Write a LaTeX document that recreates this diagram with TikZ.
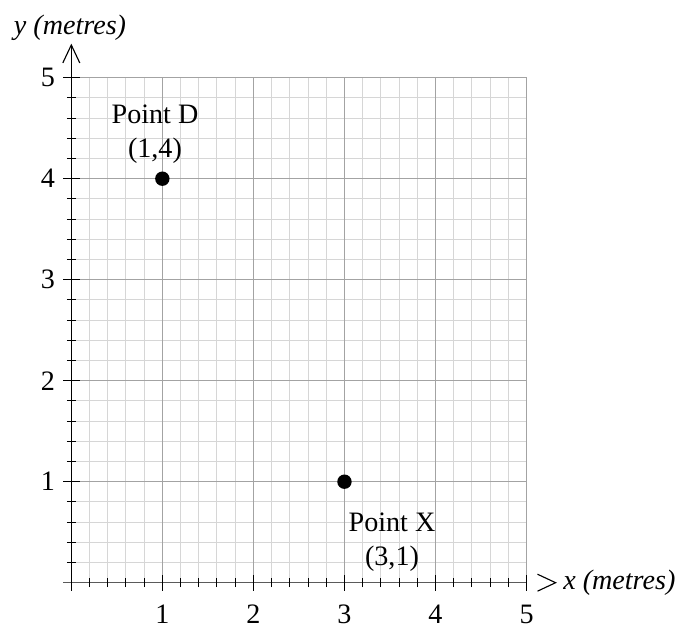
\documentclass[tikz,border=0pt]{standalone}
\usepackage{fontspec}
\setmainfont{Liberation Serif}
\usetikzlibrary{arrows.meta, positioning}
\definecolor{gridminor}{HTML}{D6D6D6}
\definecolor{gridmajor}{HTML}{A3A3A3}
\definecolor{axisgray}{HTML}{5A5A5A}

\begin{document}
\begin{tikzpicture}[
  x=2.2763cm, y=2.525cm,
  every node/.style={font=\fontsize{20}{24}\selectfont},
  minorline/.style={draw=gridminor, line width=0.7pt},
  majorline/.style={draw=gridmajor, line width=0.7pt},
  axisline/.style={line width=0.8pt},
  tickmark/.style={black, line width=0.7pt},
  ticklabel/.style={inner sep=0pt},
  dot/.style={circle, fill=black, inner sep=0pt, minimum size=0.36cm},
  ptlabel/.style={align=center, inner sep=0pt},
  axlabel/.style={font=\fontsize{20}{24}\selectfont\itshape, inner sep=0pt},
]
\useasboundingbox (-1.7825cm,-1.1325cm) rectangle (15.1675cm,14.5675cm);

% Grid
\foreach \k in {1,...,25} {
  \draw[minorline] (\k/5,0) -- (\k/5,5);
  \draw[minorline] (0,\k/5) -- (5,\k/5);
}
\foreach \k in {1,...,5} {
  \draw[majorline] (\k,0) -- (\k,5);
  \draw[majorline] (0,\k) -- (5,\k);
}

% Axes
\coordinate (xtip) at (5.319,0);
\coordinate (ytip) at (0,5.337);
\draw[axisline, axisgray] (-0.09,0) -- (5,0);
\draw[axisline] (5.12,0.084) -- (xtip) -- (5.12,-0.084);
\draw[axisline, -{Straight Barb[length=0.45cm, width=0.425cm]}] (0,-0.08) -- (ytip);

% Ticks
\foreach \k in {1,...,25} {
  \draw[tickmark] (\k/5,0) ++(0,-0.1125cm) -- ++(0,0.225cm);
  \draw[tickmark] (0,\k/5) ++(-0.1125cm,0) -- ++(0.225cm,0);
}
\foreach \k in {1,...,5} {
  \draw[tickmark] (\k,0) ++(0,-0.2cm) -- ++(0,0.4cm);
  \draw[tickmark] (0,\k) ++(-0.2cm,0) -- ++(0.42cm,0);
  \node[ticklabel] (xt\k) at (\k,-0.315) {\k};
  \node[ticklabel] (yt\k) at (-0.256,\k) {\k};
}

% Axis labels
\node[axlabel, anchor=west] (xlab) at (5.40,0) {x (metres)};
\node[axlabel] (ylab) at (-0.014,5.497) {y (metres)};

% Points
\node[dot] (dotD) at (1,4) {};
\node[dot] (dotX) at (3,1) {};
\node[ptlabel] (labD) at (0.919,4.443) {Point D\\(1,4)};
\node[ptlabel] (labX) at (3.522,0.398) {Point X\\(3,1)};

\end{tikzpicture}
\end{document}
